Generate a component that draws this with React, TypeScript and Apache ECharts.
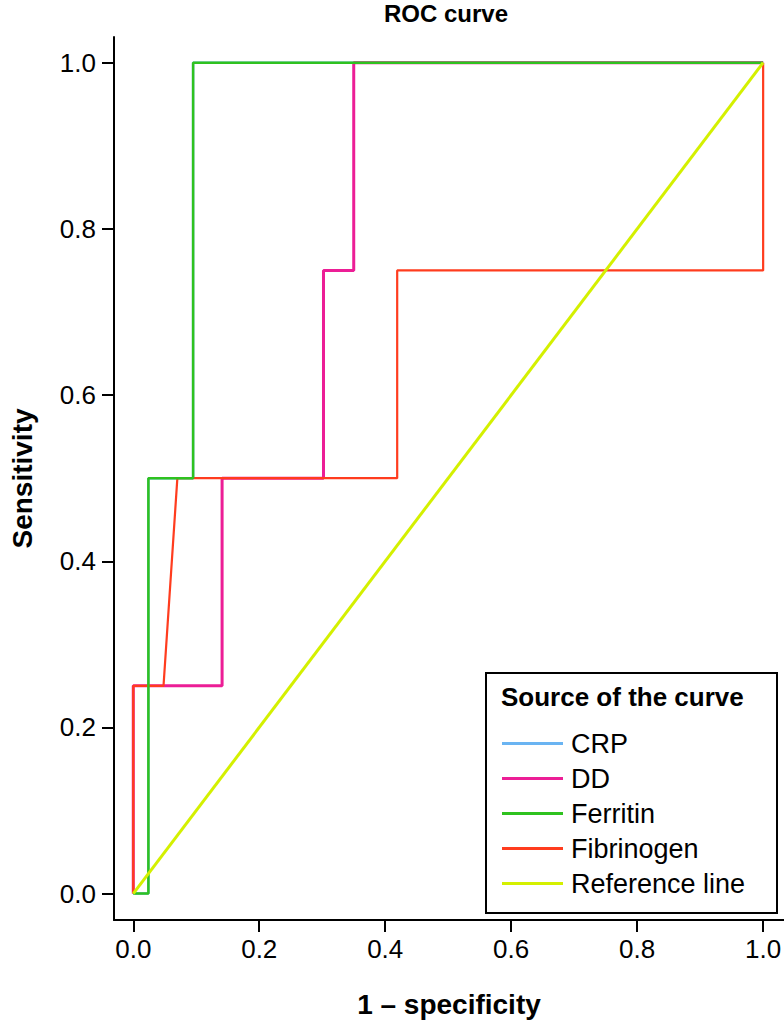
import React, { useEffect, useRef } from "react";
import * as echarts from "echarts";

const seriesNames = ["CRP", "DD", "Ferritin", "Fibrinogen", "Reference line"];
const seriesColors = ["#6ab4f2", "#ec1e96", "#2fc21f", "#ff3c1e", "#d4f000"];

// ROC points: [1 - specificity, sensitivity]
const crpPoints = [[0, 0], [0.024, 0], [0.024, 0.5], [0.095, 0.5], [0.095, 1], [1, 1]];
const ddPoints = [[0, 0], [0, 0.25], [0.141, 0.25], [0.141, 0.5], [0.302, 0.5], [0.302, 0.75], [0.35, 0.75], [0.35, 1], [1, 1]];
const ferritinPoints = [[0, 0], [0.024, 0], [0.024, 0.5], [0.095, 0.5], [0.095, 1], [1, 1]];
const fibrinogenPoints = [[0, 0], [0, 0.25], [0.048, 0.25], [0.07, 0.5], [0.419, 0.5], [0.419, 0.75], [1, 0.75], [1, 1]];
const referencePoints = [[0, 0], [1, 1]];

const tickValues = [0, 0.2, 0.4, 0.6, 0.8, 1.0];

export default function App() {
  const ref = useRef<HTMLDivElement>(null);
  useEffect(() => {
    if (!ref.current) return;
    const chart = echarts.init(ref.current, null, { renderer: "svg" });
    const font = "'Liberation Sans', Arial, Helvetica, sans-serif";
    const lineWidths = [2.5, 3, 2.5, 2.2, 3];
    const dataSets = [crpPoints, ddPoints, ferritinPoints, fibrinogenPoints, referencePoints];
    const order = [0, 1, 3, 2, 4];
    chart.setOption({
      animation: false,
      textStyle: { fontFamily: font },
      title: {
        text: "ROC curve",
        left: 446,
        textAlign: "center",
        top: 1,
        padding: 0,
        textStyle: { fontSize: 24, fontWeight: "bold", color: "#000", fontFamily: font },
      },
      grid: { left: 107, top: 37, right: 0, bottom: 100, containLabel: false },
      xAxis: {
        type: "value",
        min: -0.0306,
        max: 1.033,
        name: "1 – specificity",
        nameLocation: "middle",
        nameGap: 70,
        nameTextStyle: { fontSize: 28, fontWeight: "bold", color: "#000", fontFamily: font },
        axisLine: { show: true, onZero: false, lineStyle: { color: "#000", width: 2 } },
        axisTick: { show: true, length: 12, lineStyle: { color: "#000", width: 2 }, customValues: tickValues },
        axisLabel: {
          customValues: tickValues,
          formatter: (v: number) => v.toFixed(1),
          fontSize: 26,
          color: "#000",
          margin: 16,
          fontFamily: font,
        },
        splitLine: { show: false },
      },
      yAxis: {
        type: "value",
        min: -0.0318,
        max: 1.031,
        name: "Sensitivity",
        nameLocation: "middle",
        nameGap: 78,
        nameRotate: 90,
        nameTextStyle: { fontSize: 28, fontWeight: "bold", color: "#000", fontFamily: font },
        axisLine: { show: true, onZero: false, lineStyle: { color: "#000", width: 2 } },
        axisTick: { show: true, length: 12, lineStyle: { color: "#000", width: 2 }, customValues: tickValues },
        axisLabel: {
          customValues: tickValues,
          formatter: (v: number) => v.toFixed(1),
          fontSize: 26,
          color: "#000",
          margin: 18,
          fontFamily: font,
        },
        splitLine: { show: false },
      },
      legend: {
        data: seriesNames,
        orient: "vertical",
        left: 502,
        top: 730,
        padding: 0,
        icon: "rect",
        itemWidth: 61,
        itemHeight: 3,
        itemGap: 8,
        z: 10,
        textStyle: { fontSize: 27, lineHeight: 20, color: "#000", fontFamily: font, padding: [0, 0, 0, 3] },
      },
      graphic: [
        {
          type: "rect",
          shape: { x: 486, y: 673, width: 291, height: 240 },
          style: { fill: "#fff", stroke: "#000", lineWidth: 2 },
          z: 3,
        },
        {
          type: "text",
          x: 501,
          y: 697,
          style: {
            text: "Source of the curve",
            fontSize: 26,
            fontWeight: "bold",
            fill: "#000",
            fontFamily: font,
            verticalAlign: "middle",
          },
          z: 11,
        },
      ],
      series: order.map((i) => ({
        name: seriesNames[i],
        type: "line",
        data: dataSets[i],
        symbol: "none",
        color: seriesColors[i],
        lineStyle: { color: seriesColors[i], width: lineWidths[i] },
        z: 2,
      })),
    });
    return () => chart.dispose();
  }, []);
  return (
    <div
      ref={ref}
      style={{ position: "fixed", left: 0, top: 0, width: 784, height: 1023, background: "#fff" }}
    />
  );
}
